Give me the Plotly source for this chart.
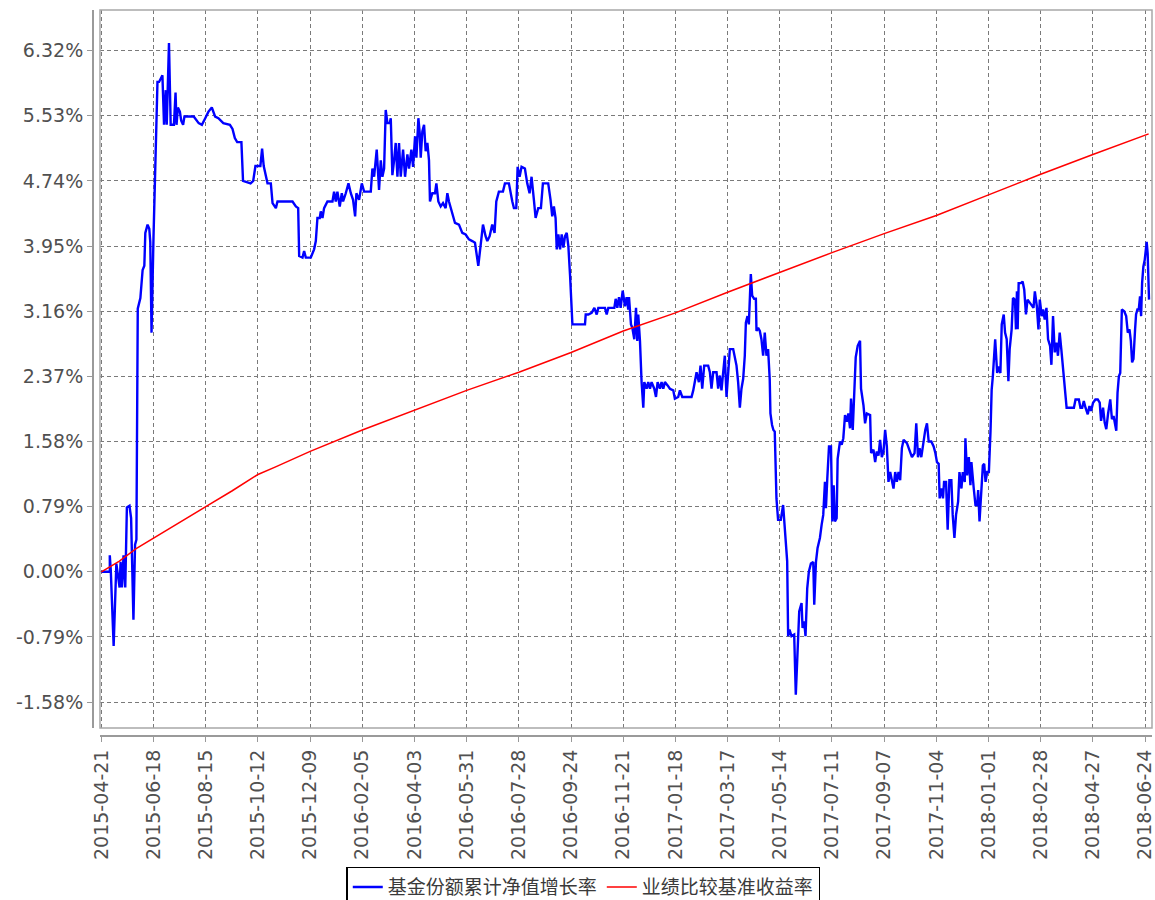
import pandas as pd
import plotly.graph_objects as go

# ---------------- data ----------------
start_date = "2015-04-21"

# 基金份额累计净值增长率 : day offset from start date, value in %
fund_days = [
    0, 9.4, 9.3, 10.4, 13.6, 16.6, 20.2, 21.3, 22.8, 24.6, 26.5, 28.3, 31.2, 33.0, 35.6,
    37.4, 38.9, 40.4, 43.3, 45.8, 47.7, 48.8, 51.3, 53.2, 54.3, 55.7, 57.9, 62.3, 64.1,
    66.0, 67.8, 69.6, 71.5, 72.6, 74.0, 75.1, 77.0, 80.6, 82.4, 83.5, 85.0, 87.2, 88.7,
    90.8, 92.3, 102.6, 108.1, 111.7, 115.4, 119.0, 122.7, 126.4, 130.0, 135.5, 142.8,
    145.7, 148.3, 150.9, 155.6, 157.4, 165.8, 168.7, 171.2, 176.7, 178.6, 180.4,
    184.6, 188.3, 190.2, 193.9, 195.7, 212.4, 216.1, 218.7, 219.8, 223.5, 225.3, 227.2,
    232.7, 236.4, 238.3, 240.1, 242.7, 243.8, 245.7, 247.5, 251.2, 256.8, 258.6, 260.5,
    262.3, 264.9, 267.2, 268.6, 271.6, 274.6, 277.2, 279.7, 282.0, 283.4, 286.4, 289.4,
    292.0, 299.4, 301.2, 303.1, 306.0, 308.6, 310.5, 312.3, 314.2, 316.0, 317.9, 320.5,
    321.6, 323.4, 325.3, 327.1, 329.0, 330.8, 332.7, 335.3, 337.5, 340.1, 341.9, 344.5,
    346.4, 348.6, 350.1, 352.3, 353.8, 354.9, 356.7, 358.6, 360.4, 362.3, 364.1, 365.2,
    367.8, 370.8, 372.3, 374.5, 377.1, 379.7, 382.6, 384.5, 386.3, 388.2, 390.8, 393.0,
    397.4, 401.1, 404.8, 408.5, 412.2, 415.2, 418.9, 421.5, 424.1, 427.0, 428.9, 431.5,
    434.4, 437.0, 438.9, 441.8, 446.3, 448.5, 452.9, 456.7, 458.5, 461.1, 462.6, 464.8,
    467.0, 470.7, 473.3, 475.9, 478.1, 480.7, 482.6, 485.5, 488.5, 490.7, 496.6, 499.2,
    501.1, 502.9, 504.8,
    506.1, 507.9, 509.8, 511.6, 513.5, 515.3, 517.2, 519.0, 520.9, 522.7, 523.5, 526.4,
    537.5, 538.3, 541.2, 544.9, 547.9, 550.5, 552.3, 559.7, 561.6, 563.4, 570.1, 571.6,
    573.4, 575.3, 577.1, 579.4, 581.9, 583.8, 585.6, 586.4, 588.6, 590.1, 592.3, 594.2,
    595.6, 596.7, 598.6, 600.4, 602.3, 603.4, 606.0, 607.8, 609.7, 611.5, 614.5, 616.4,
    618.2, 620.8, 622.6, 624.5, 626.3, 629.3, 631.9, 635.6, 637.4, 641.1, 643.0, 645.6,
    655.9, 657.8, 659.6, 661.5, 664.1, 665.9, 667.8, 670.0, 674.4, 676.3, 678.1, 680.0,
    683.7, 685.5, 687.4, 689.2, 691.1, 692.9, 694.8, 696.6, 698.5, 702.2, 704.0, 705.9,
    707.7, 709.6, 711.4, 713.3, 715.1, 716.3, 718.1, 719.6, 721.8, 723.3, 725.5, 727.4,
    728.1, 729.9, 731.8, 733.6, 735.5, 737.3, 739.2, 741.0,
    742.8, 743.6, 745.4, 746.9, 748.4, 749.5, 750.3, 752.1, 755.1, 757.7, 758.8, 762.2,
    763.3, 764.8, 767.0, 770.0, 771.8, 773.3, 775.6, 778.2, 779.3, 781.1, 782.6, 784.5,
    786.3, 788.6, 791.2, 792.3, 794.2, 796.0, 798.6, 800.5, 802.3, 804.2, 805.3, 806.8,
    808.7, 810.9, 812.4, 813.9, 815.3, 817.2, 818.3, 820.9, 822.8, 824.6, 826.5, 828.4,
    830.2, 832.1, 833.2, 835.1, 836.9, 838.4, 840.6, 843.2, 844.3, 847.0, 848.8, 850.7,
    854.4, 855.5, 858.1, 860.0, 861.8, 863.7, 865.5, 867.4, 869.3, 871.1, 873.0, 874.8,
    876.7, 878.6, 880.4, 882.3, 884.1, 886.0, 887.8, 889.7, 891.6, 895.3, 899.0, 900.9,
    903.8, 905.7, 907.6, 909.4, 911.3, 913.9, 915.7, 917.6, 919.5, 922.4, 925.0, 926.9,
    928.7, 930.6, 931.7, 933.6, 935.4, 936.6, 938.8, 940.6, 942.5, 944.7, 946.2, 948.1,
    949.9, 952.2, 953.7, 955.9, 957.4, 959.6, 960.3, 962.2, 964.1, 965.9, 967.0, 969.6,
    971.5, 973.4, 974.5, 976.0, 977.8, 979.7, 981.2, 982.7, 984.5, 986.4, 988.2,
    989.5, 990.8, 993.4, 995.6, 997.0, 999.2, 1000.7, 1002.9, 1004.4, 1006.2, 1008.1,
    1009.5, 1011.7, 1013.2, 1015.4, 1016.5, 1017.6, 1018.4, 1019.5, 1022.0, 1023.9,
    1025.7, 1027.6, 1029.4, 1033.1, 1036.0, 1037.5, 1039.7, 1041.5, 1043.0, 1045.2,
    1046.7, 1048.5, 1050.4, 1052.2, 1054.4, 1055.9, 1057.7, 1059.6, 1061.4, 1063.2,
    1065.1, 1066.9, 1068.8, 1070.6, 1072.8, 1080.9, 1082.7, 1086.4, 1088.2, 1090.1,
    1091.9, 1093.8, 1096.3, 1098.2, 1100.0, 1102.2, 1104.8, 1107.4, 1109.6, 1111.1,
    1113.3, 1115.1, 1116.9, 1118.8, 1121.3, 1123.2, 1125.0, 1128.0, 1129.4, 1130.9,
    1132.4, 1134.2, 1136.8, 1139.0, 1140.8, 1142.7, 1144.2, 1145.6, 1147.1, 1148.9,
    1150.0, 1151.5, 1153.0, 1154.4, 1155.6, 1156.7, 1158.1, 1159.6, 1160.7, 1161.8,
    1162.9, 1164.4,
]
fund_values = [
    0.00, 0.00, 0.20, 0.02, -0.90, 0.10, -0.19, 0.12, -0.19, 0.20, -0.19, 0.78, 0.80, 0.65, -0.58,
    0.33, 0.39, 3.19, 3.32, 3.66, 3.71, 4.11, 4.21, 4.16, 4.00, 2.90, 4.06, 5.94, 5.94,
    5.99, 6.02, 5.42, 5.84, 5.42, 5.84, 6.41, 5.42, 5.42, 5.81, 5.42, 5.63, 5.58, 5.47,
    5.42, 5.52, 5.52, 5.44, 5.42, 5.50, 5.58, 5.63, 5.52, 5.50, 5.44, 5.42,
    5.37, 5.26, 5.21, 5.21, 4.74, 4.71, 4.74, 4.92, 4.92, 5.13, 4.92,
    4.71, 4.71, 4.47, 4.41, 4.49, 4.49, 4.43, 4.41, 3.83, 3.81, 3.89, 3.81,
    3.81, 3.91, 4.01, 4.29, 4.29, 4.37, 4.29, 4.41, 4.49, 4.49, 4.61, 4.49,
    4.61, 4.43, 4.59, 4.49, 4.59, 4.71, 4.59, 4.51, 4.31, 4.59, 4.51, 4.71,
    4.61, 4.61, 4.89, 4.79, 5.12, 4.63, 4.99, 4.79, 4.89, 5.60, 5.44, 5.44,
    5.50, 4.81, 4.99, 5.20, 4.79, 5.20, 4.79, 5.12, 4.79, 5.06, 4.89, 5.12,
    4.91, 5.28, 5.02, 5.50, 5.32, 5.02, 5.34, 5.42, 5.10, 5.20, 4.99, 4.49,
    4.59, 4.59, 4.71, 4.49, 4.43, 4.47, 4.41, 4.59, 4.49, 4.41, 4.33, 4.23,
    4.21, 4.11, 4.09, 4.03, 4.01, 3.99, 3.71, 3.99, 4.21, 4.07, 4.01, 4.07,
    4.21, 4.11, 4.49, 4.61, 4.61, 4.71, 4.71, 4.49, 4.41, 4.41, 4.91, 4.79,
    4.91, 4.89, 4.71, 4.59, 4.79, 4.51, 4.29, 4.41, 4.41, 4.71, 4.71, 4.51,
    4.31, 4.43, 4.29,
    3.91, 4.09, 3.91, 4.09, 3.93, 4.07, 4.11, 3.95, 3.59, 3.14, 3.00, 3.00,
    3.00, 3.12, 3.12, 3.14, 3.20, 3.12, 3.20, 3.20, 3.12, 3.20, 3.20, 3.31,
    3.20, 3.33, 3.20, 3.41, 3.22, 3.33, 3.18, 3.33, 3.00, 2.96, 2.82, 3.20,
    2.80, 3.12, 2.80, 2.30, 1.99, 2.30, 2.22, 2.30, 2.22, 2.30, 2.22, 2.12,
    2.30, 2.22, 2.30, 2.22, 2.30, 2.26, 2.22, 2.20, 2.10, 2.12, 2.20, 2.12,
    2.12, 2.20, 2.30, 2.42, 2.30, 2.50, 2.22, 2.50, 2.50, 2.42, 2.22, 2.42,
    2.42, 2.22, 2.38, 2.20, 2.42, 2.62, 2.12, 2.42, 2.70, 2.70, 2.62, 2.50,
    2.30, 1.99, 2.22, 2.34, 2.62, 3.02, 3.10, 3.00, 3.61, 3.35, 3.31, 3.31,
    2.92, 2.96, 2.92, 2.82, 2.62, 2.90, 2.62, 2.70,
    2.34, 1.92, 1.78, 1.72, 1.70, 1.25, 0.89, 0.63, 0.63, 0.81, 0.61, 0.13,
    -0.78, -0.70, -0.78, -0.76, -1.49, -1.04, -0.48, -0.38, -0.68, -0.60, -0.78, -0.20,
    0.00, 0.10, 0.12, -0.40, 0.12, 0.29, 0.41, 0.57, 0.69, 1.09, 0.77, 1.13,
    1.52, 1.52, 0.61, 1.05, 0.61, 0.65, 1.37, 1.58, 1.54, 1.62, 1.90, 1.82,
    1.92, 1.74, 2.10, 1.72, 2.16, 2.60, 2.74, 2.80, 2.22, 2.02, 1.80, 1.92,
    1.90, 1.44, 1.48, 1.33, 1.46, 1.41, 1.60, 1.39, 1.46, 1.72, 1.52, 1.09,
    1.21, 1.09, 1.01, 1.21, 1.09, 1.21, 1.11, 1.50, 1.60, 1.56, 1.46, 1.39,
    1.44, 1.80, 1.39, 1.50, 1.39, 1.62, 1.72, 1.80, 1.58, 1.58, 1.52, 1.44,
    1.33, 1.31, 0.89, 1.01, 0.89, 1.09, 1.09, 0.51, 1.11, 1.11, 0.69, 0.41,
    0.69, 0.85, 1.21, 1.01, 1.21, 1.09, 1.62, 1.17, 1.39, 1.05, 1.33, 1.01,
    0.81, 0.81, 0.99, 0.61, 1.01, 1.29, 1.31, 1.09, 1.21, 1.21, 1.70,
    2.21, 2.37, 2.82, 2.41, 2.49, 2.41, 3.00, 3.12, 2.90, 2.82, 2.31,
    2.70, 2.94, 3.32, 3.30, 2.94, 3.40, 2.94, 3.50, 3.50, 3.52,
    3.42, 3.12, 3.30, 3.24, 3.20, 3.40, 3.22, 2.94, 3.30, 3.10,
    3.18, 3.06, 3.20, 2.82, 2.74, 2.51, 3.10, 2.66, 2.78, 2.62,
    2.90, 2.70, 2.49, 2.21, 1.99, 1.99, 2.09, 2.09, 1.99, 1.99,
    2.07, 1.99, 1.91, 2.01, 1.95, 2.05, 2.09, 2.09, 2.05, 1.83,
    1.99, 1.81, 1.73, 1.91, 2.09, 1.85, 1.89, 1.71, 2.17, 2.37,
    2.41, 3.18, 3.16, 3.10, 2.90, 2.94, 2.80, 2.54, 2.58, 2.94,
    3.12, 3.18, 3.18, 3.34, 3.10, 3.50, 3.70, 3.78, 3.90, 4.00,
    3.86, 3.30,
]

# 业绩比较基准收益率 : day offset, value in %
bench_days = [0, 20, 38.6, 58, 87, 116, 145, 160, 174, 193, 232, 290, 348, 406, 464, 522,
              580, 638, 696, 754, 812, 870, 928, 986, 1044, 1102, 1164]
bench_values = [0.00, 0.13, 0.28, 0.41, 0.60, 0.79, 0.98, 1.08, 1.18, 1.27, 1.46, 1.72, 1.96,
                2.20, 2.42, 2.66, 2.92, 3.14, 3.39, 3.63, 3.87, 4.10, 4.32, 4.57, 4.82, 5.06, 5.31]

x_tick_labels = [
    "2015-04-21", "2015-06-18", "2015-08-15", "2015-10-12", "2015-12-09", "2016-02-05",
    "2016-04-03", "2016-05-31", "2016-07-28", "2016-09-24", "2016-11-21", "2017-01-18",
    "2017-03-17", "2017-05-14", "2017-07-11", "2017-09-07", "2017-11-04", "2018-01-01",
    "2018-02-28", "2018-04-27", "2018-06-24",
]
y_tick_values = [-1.58, -0.79, 0.00, 0.79, 1.58, 2.37, 3.16, 3.95, 4.74, 5.53, 6.32]
y_tick_labels = [f"{v:.2f}%" for v in y_tick_values]

series_names = ["基金份额累计净值增长率", "业绩比较基准收益率"]

# ---------------- build ----------------
t0 = pd.Timestamp(start_date)
fund_x = t0 + pd.to_timedelta(fund_days, unit="D")
bench_x = t0 + pd.to_timedelta(bench_days, unit="D")

fig = go.Figure()
fig.add_trace(go.Scatter(x=fund_x, y=fund_values, mode="lines", name=series_names[0],
                         line=dict(color="#0000ff", width=2.4)))
fig.add_trace(go.Scatter(x=bench_x, y=bench_values, mode="lines", name=series_names[1],
                         line=dict(color="#ff0000", width=1.5)))

tick_font = dict(family="DejaVu Sans", size=19, color="#505050")
grid_kw = dict(showgrid=True, gridcolor="#7a7a7a", gridwidth=1, griddash="4px,3px")

fig.update_layout(
    width=1155, height=900,
    margin=dict(l=93, r=3, t=10, b=164, autoexpand=False),
    paper_bgcolor="white", plot_bgcolor="white",
    showlegend=True,
    legend=dict(
        orientation="h", xref="container", yref="container",
        x=0.505, xanchor="center", y=0.037, yanchor="top",
        bordercolor="#000000", borderwidth=1.5, bgcolor="white",
        font=dict(family="Noto Sans CJK SC", size=19, color="#3a3a3a"),
        itemwidth=30, tracegroupgap=0,
    ),
    xaxis=dict(
        type="date", automargin=False,
        domain=[0.0066, 1], anchor="free", position=0,
        range=["2015-04-19 10:00", "2018-07-01 17:00"],
        tickmode="array", tickvals=x_tick_labels, ticktext=x_tick_labels,
        tickangle=-90, tickfont=tick_font, ticklabeloverflow="allow",
        ticks="outside", ticklen=5, tickcolor="#999999",
        showline=True, linecolor="#9a9a9a", linewidth=2,
        zeroline=False, **grid_kw,
    ),
    yaxis=dict(
        automargin=False,
        domain=[0.011, 1], anchor="free", position=0,
        range=[-1.894, 6.812],
        tickmode="array", tickvals=y_tick_values, ticktext=y_tick_labels,
        tickfont=tick_font, ticklabeloverflow="allow",
        ticks="outside", ticklen=5, tickcolor="#999999",
        showline=True, linecolor="#9a9a9a", linewidth=2,
        zeroline=False, **grid_kw,
    ),
    shapes=[dict(type="rect", xref="x domain", yref="y domain", x0=0, x1=1, y0=0, y1=1,
                 line=dict(color="#a8a8a8", width=1.5), layer="above")],
)

fig.write_html(
    "out.html",
    config={"displayModeBar": False},
    post_script="document.body.style.margin='0px';document.body.style.overflow='hidden';",
)
